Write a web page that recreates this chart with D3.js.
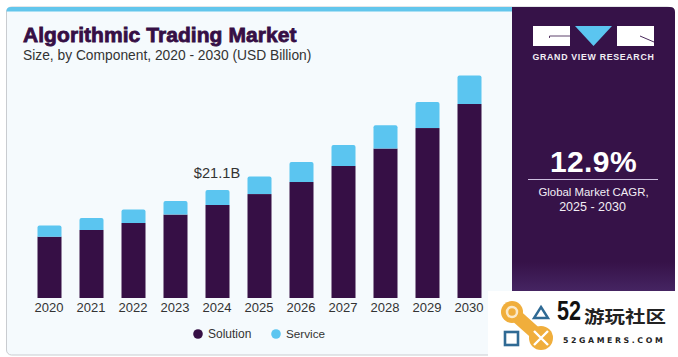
<!DOCTYPE html>
<html><head><meta charset="utf-8">
<script src="https://cdn.jsdelivr.net/npm/d3@7/dist/d3.min.js"></script>
<style>html,body{margin:0;padding:0;background:#fff}svg{display:block}</style>
</head><body><svg id="c" width="678" height="357"></svg>
<script>
const categories=["2020","2021","2022","2023","2024","2025","2026","2027","2028","2029","2030"];
const solution=[11.98,13.29,14.65,16.3,18.17,20.3,22.66,25.8,29.2,33.2,37.9];
const service=[2.19,2.34,2.64,2.64,2.93,3.42,3.9,4.1,4.55,5.08,5.57];
const seriesNames=["Solution","Service"];
const PURPLE="#360f45",BLUE="#5bc5f0",INK="#333";
const svg=d3.select("#c");
const F="'Liberation Sans',Arial,sans-serif";
// card
svg.append("rect").attr("x",6.5).attr("y",7).attr("width",666).attr("height",348).attr("rx",5).attr("fill","#f5fafd").attr("stroke","#c9ccd0").attr("stroke-width",1);
svg.append("path").attr("d","M6.5 12 V11 Q6.5 7 11 7 H512 V11.5 H6.5Z").attr("fill","#62c6ec");
// panel
svg.append("path").attr("d","M512 7 H670 Q675 7 675 12 V300 H512Z").attr("fill","#361248");
const grad=svg.append("defs").append("linearGradient").attr("id","pg").attr("x1",0).attr("x2",0).attr("y1",0).attr("y2",1);
grad.append("stop").attr("offset",0).attr("stop-color","#361248");
grad.append("stop").attr("offset",1).attr("stop-color","#4a2a6a");
svg.append("rect").attr("x",512).attr("y",262).attr("width",163).attr("height",38).attr("fill","url(#pg)");
// titles
svg.append("text").attr("x",23).attr("y",41.5).attr("font-family",F).attr("font-weight",700).attr("font-size",21).attr("letter-spacing",.06).attr("fill",PURPLE).attr("stroke",PURPLE).attr("stroke-width",.8).text("Algorithmic Trading Market");
svg.append("text").attr("x",23).attr("y",60).attr("font-family",F).attr("font-size",13.8).attr("fill",INK).text("Size, by Component, 2020 - 2030 (USD Billion)");
// scales
const x=d3.scaleBand().domain(categories).range([28.5,490.5]).paddingInner(18/42).paddingOuter(9/42);
const y=d3.scaleLinear().domain([0,43.47]).range([298,75.5]);
const topRound=(x0,w,yt,yb,r)=>`M${x0} ${yb}V${yt+r}Q${x0} ${yt} ${x0+r} ${yt}H${x0+w-r}Q${x0+w} ${yt} ${x0+w} ${yt+r}V${yb}Z`;
const g=svg.append("g");
g.selectAll(".sol").data(categories).join("rect").attr("class","sol")
 .attr("x",d=>x(d)).attr("width",x.bandwidth())
 .attr("y",(d,i)=>y(solution[i])).attr("height",(d,i)=>y(0)-y(solution[i])).attr("fill",PURPLE);
g.selectAll(".srv").data(categories).join("path").attr("class","srv").attr("fill",BLUE)
 .attr("d",(d,i)=>topRound(x(d),x.bandwidth(),y(solution[i]+service[i]),y(solution[i]),2));
// axis
const ax=svg.append("g").attr("transform","translate(-0.6,298)").call(d3.axisBottom(x).tickSize(0).tickPadding(4.5));
ax.select(".domain").remove();
ax.selectAll("text").attr("font-family",F).attr("font-size",13).attr("fill",INK);
// annotation
svg.append("text").attr("x",217).attr("y",178).attr("text-anchor","middle").attr("font-family",F).attr("font-size",14.6).attr("fill",INK).text("$"+d3.format(".1f")(solution[4]+service[4])+"B");
// legend
const lg=svg.append("g");
[[198,0],[276,1]].forEach(([cx,i])=>{
 lg.append("circle").attr("cx",cx).attr("cy",334).attr("r",4.8).attr("fill",i?BLUE:PURPLE);
 lg.append("text").attr("x",cx+10).attr("y",338).attr("font-family",F).attr("font-size",i?11.7:12).attr("fill",INK).text(seriesNames[i]);
});
// logo
const lo=svg.append("g");
lo.append("rect").attr("x",533).attr("y",26).attr("width",37).attr("height",20).attr("fill","#fff");
lo.append("path").attr("d","M549.5 38V36H570").attr("fill","none").attr("stroke","#361248").attr("stroke-width",.8);
lo.append("path").attr("d","M575 26H612L593.5 46Z").attr("fill",BLUE);
lo.append("rect").attr("x",617).attr("y",26).attr("width",37).attr("height",20).attr("fill","#fff");
lo.append("path").attr("d","M640 36L654 42").attr("fill","none").attr("stroke","#361248").attr("stroke-width",.9);
lo.append("text").attr("x",593.5).attr("y",60).attr("text-anchor","middle").attr("font-family",F).attr("font-weight",700).attr("font-size",8.8).attr("letter-spacing",.68).attr("fill","#f2eef5").text("GRAND VIEW RESEARCH");
// CAGR
svg.append("text").attr("x",593.5).attr("y",172).attr("text-anchor","middle").attr("font-family",F).attr("font-weight",700).attr("font-size",30).attr("letter-spacing",.4).attr("fill","#fff").text("12.9%");
svg.append("line").attr("x1",528).attr("x2",658).attr("y1",179.5).attr("y2",179.5).attr("stroke","#cdbfe0").attr("stroke-width",1);
svg.append("text").attr("x",593.5).attr("y",196).attr("text-anchor","middle").attr("font-family",F).attr("font-size",11.4).attr("fill","#f2eef5").text("Global Market CAGR,");
svg.append("text").attr("x",592.5).attr("y",211).attr("text-anchor","middle").attr("font-family",F).attr("font-size",12.5).attr("fill","#f2eef5").text("2025 - 2030");
// watermark
const w=svg.append("g");
w.append("rect").attr("x",488).attr("y",291).attr("width",190).attr("height",66).attr("fill","#fff");
const OR="#f0ae3c",BL="#2f6a94";
w.append("path").attr("d","M512 312L541 338").attr("stroke",OR).attr("stroke-width",13).attr("fill","none");
w.append("circle").attr("cx",512).attr("cy",312).attr("r",11).attr("fill",OR);
w.append("circle").attr("cx",512).attr("cy",312).attr("r",5).attr("fill","none").attr("stroke","#fbe9c9").attr("stroke-width",2.5);
w.append("circle").attr("cx",541).attr("cy",338).attr("r",12).attr("fill",OR);
w.append("path").attr("d","M534 331L548 345M548 331L534 345").attr("stroke","#fff").attr("stroke-width",2.4);
w.append("path").attr("d","M541 307L548 318H534Z").attr("fill","none").attr("stroke",BL).attr("stroke-width",2.4);
w.append("rect").attr("x",505).attr("y",332).attr("width",13).attr("height",13).attr("fill","none").attr("stroke",BL).attr("stroke-width",2.6);
w.append("text").attr("transform","translate(557,319.5) scale(.8,1)").attr("font-family",F).attr("font-weight",700).attr("font-size",27).attr("fill","#111").text("52");
w.append("text").attr("transform","translate(584,323) scale(1,.85)").attr("font-family","'Noto Sans CJK SC'").attr("font-weight",700).attr("font-size",20.5).attr("fill","#222").text("游玩社区");
w.append("text").attr("x",563).attr("y",343).attr("font-family","'DejaVu Sans',sans-serif").attr("font-weight",700).attr("font-size",7.8).attr("letter-spacing",2.6).attr("fill","#222").text("52GAMERS.COM");
</script></body></html>
